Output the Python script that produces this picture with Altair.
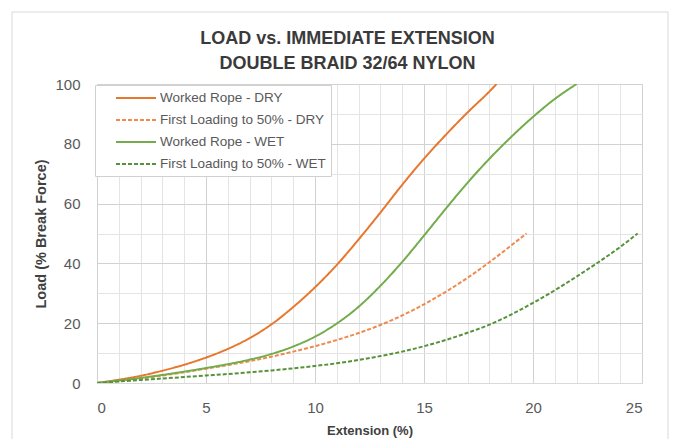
import altair as alt
import pandas as pd

series_names = [
    "Worked Rope - DRY",
    "First Loading to 50% - DRY",
    "Worked Rope - WET",
    "First Loading to 50% - WET",
]

worked_dry_x = [0, 1, 2, 3, 4, 5, 6, 7, 8, 9, 10, 11, 12, 13, 14, 15, 16, 17, 18, 18.33]
worked_dry_y = [0, 1.1, 2.4, 4.1, 6.1, 8.5, 11.4, 15.0, 19.6, 25.4, 32, 39.5, 48, 57, 66.3, 75, 83, 90.5, 97.5, 100]

first_dry_x = [0, 1, 2, 3, 4, 5, 6, 7, 8, 9, 10, 11, 12, 13, 14, 15, 16, 17, 18, 19, 19.7]
first_dry_y = [0, 0.7, 1.5, 2.5, 3.6, 4.8, 6.0, 7.3, 8.8, 10.5, 12.3, 14.4, 16.7, 19.4, 22.6, 26.3, 30.5, 35.2, 40.4, 46, 50]

worked_wet_x = [0, 1, 2, 3, 4, 5, 6, 7, 8, 9, 10, 11, 12, 13, 14, 15, 16, 17, 18, 19, 20, 21, 22]
worked_wet_y = [0, 0.8, 1.7, 2.7, 3.8, 5.0, 6.3, 7.8, 9.7, 12.2, 15.5, 19.9, 25.5, 32.5, 40.5, 49.3, 58.3, 67, 75, 82.3, 89, 95, 100]

first_wet_x = [0, 1, 2, 3, 4, 5, 6, 7, 8, 9, 10, 11, 12, 13, 14, 15, 16, 17, 18, 19, 20, 21, 22, 23, 24, 24.8]
first_wet_y = [0, 0.5, 1.0, 1.5, 2.0, 2.5, 3.0, 3.6, 4.2, 4.9, 5.7, 6.6, 7.7, 9.0, 10.5, 12.3, 14.4, 16.8, 19.5, 22.9, 26.8, 31.0, 35.6, 40.4, 45.5, 50]

series_x = [worked_dry_x, first_dry_x, worked_wet_x, first_wet_x]
series_y = [worked_dry_y, first_dry_y, worked_wet_y, first_wet_y]

rows = []
for name, xs, ys in zip(series_names, series_x, series_y):
    for i, (x, y) in enumerate(zip(xs, ys)):
        rows.append({"series": name, "ext": x, "load": y, "order": i})
df = pd.DataFrame(rows)

colors = ["#E8772E", "#EE8A4E", "#74AC4C", "#56923A"]
dashes = [[1, 0], [4, 2], [1, 0], [4, 2]]

FONT = "Liberation Sans, Arial"

x_vals = list(range(0, 26))
y_vals = list(range(0, 101, 10))

legend_cfg = dict(
    title=None,
    orient="none",
    legendX=-2,
    legendY=1,
    symbolType="M1.14,0H6.86",
    symbolSize=196,
    symbolStrokeWidth=2,
    labelOffset=44,
    labelFont=FONT,
    labelFontSize=13.5,
    labelColor="#595959",
    rowPadding=7,
    padding=5,
    fillColor="white",
    strokeColor="#d0d0d0",
    labelLimit=300,
)

lines = alt.Chart(df).mark_line(strokeWidth=2, clip=True, interpolate="monotone").encode(
    x=alt.X(
        "ext:Q",
        scale=alt.Scale(domain=[0, 25], nice=False),
        axis=alt.Axis(
            values=x_vals,
            labelExpr="datum.value % 5 === 0 ? datum.label : ''",
            labelFont=FONT,
            labelFontSize=15,
            labelColor="#595959",
            title="Extension (%)",
            titleFont=FONT,
            titleFontSize=13,
            titleFontWeight="bold",
            titleColor="#404040",
            grid=True,
            gridColor={"condition": {"test": "datum.value % 5 === 0", "value": "#d2d2d2"}, "value": "#e4e4e4"},
            gridWidth=1,
            ticks=False,
            domainColor="#d9d9d9",
            labelPadding=17,
            titlePadding=9,
        ),
    ),
    y=alt.Y(
        "load:Q",
        scale=alt.Scale(domain=[0, 100], nice=False),
        axis=alt.Axis(
            values=y_vals,
            labelExpr="datum.value % 20 === 0 ? datum.label : ''",
            labelFont=FONT,
            labelFontSize=15,
            labelColor="#595959",
            title="Load (% Break Force)",
            titleFont=FONT,
            titleFontSize=14.5,
            titleFontWeight="bold",
            titleColor="#404040",
            grid=True,
            gridColor={"condition": {"test": "datum.value % 20 === 0", "value": "#d2d2d2"}, "value": "#e4e4e4"},
            gridWidth=1,
            ticks=False,
            domain=False,
            labelPadding=17,
            titlePadding=6,
        ),
    ),
    color=alt.Color(
        "series:N",
        scale=alt.Scale(domain=series_names, range=colors),
        legend=alt.Legend(**legend_cfg),
    ),
    strokeDash=alt.StrokeDash(
        "series:N",
        scale=alt.Scale(domain=series_names, range=dashes),
        legend=alt.Legend(**legend_cfg),
    ),
    order="order:Q",
)

frame = alt.Chart(pd.DataFrame({"a": [0]})).mark_rect(
    fill=None, stroke="#d9d9d9", strokeWidth=1
).encode(
    x=alt.value(-85), x2=alt.value(571), y=alt.value(-72), y2=alt.value(380)
)

chart = alt.layer(frame, lines).properties(
    width=545,
    height=299,
    autosize=alt.AutoSizeParams(type="none"),
    padding={"left": 97, "top": 84, "right": 36, "bottom": 56},
    title=alt.TitleParams(
        text=["LOAD vs. IMMEDIATE EXTENSION", "DOUBLE BRAID 32/64 NYLON"],
        font=FONT,
        fontSize=18,
        fontWeight="bold",
        color="#3a3a3a",
        lineHeight=25,
        anchor="middle",
        dx=-22,
        offset=-61,
    ),
).configure_view(stroke=None).configure(background="white")

chart.save("out.html", embed_options={"renderer": "svg", "actions": False})
